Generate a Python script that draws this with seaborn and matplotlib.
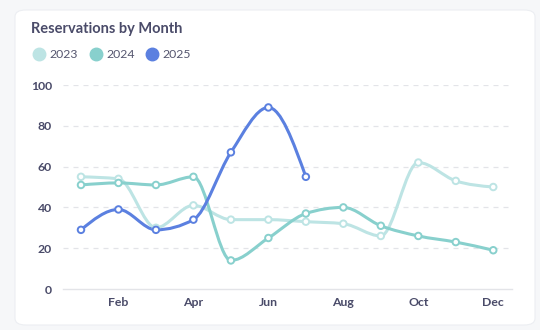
import numpy as np
import pandas as pd
import matplotlib
matplotlib.use("Agg")
import matplotlib.pyplot as plt
import seaborn as sns
from matplotlib.path import Path
from matplotlib.patches import PathPatch, FancyBboxPatch
from matplotlib.lines import Line2D

months = ["Jan", "Feb", "Mar", "Apr", "May", "Jun", "Jul", "Aug", "Sep", "Oct", "Nov", "Dec"]
tick_labels = ["Feb", "Apr", "Jun", "Aug", "Oct", "Dec"]
series_names = ["2023", "2024", "2025"]
values_2023 = [55, 54, 30, 41, 34, 34, 33, 32, 26, 62, 53, 50]
values_2024 = [51, 52, 51, 55, 14, 25, 37, 40, 31, 26, 23, 19]
values_2025 = [29, 39, 29, 34, 67, 89, 55]
y_ticks = [0, 20, 40, 60, 80, 100]

colors = {"2023": "#bde4e4", "2024": "#88d0cd", "2025": "#5b80e0"}
text_color = "#4a4b69"

sns.set_theme(style="white")
plt.rcParams["font.family"] = ["Lato", "DejaVu Sans"]

rows = []
for name, vals in zip(series_names, [values_2023, values_2024, values_2025]):
    for i, v in enumerate(vals):
        rows.append({"month": months[i], "x": i, "value": v, "year": name})
df = pd.DataFrame(rows)

fig = plt.figure(figsize=(5.4, 3.3), dpi=100)
fig.patch.set_facecolor("#f6f7f9")

card = FancyBboxPatch((15 / 540, 5 / 330), 520 / 540, 315 / 330,
                      boxstyle="round,pad=0,rounding_size=0.02",
                      transform=fig.transFigure, facecolor="white",
                      edgecolor="#eceef2", linewidth=0.8, zorder=0)
fig.add_artist(card)

ax = fig.add_axes([63 / 540, (330 - 289) / 330, (512 - 63) / 540, (289 - 85) / 330])
ax.set_facecolor("none")


def monotone_path(xs, ys):
    xs = np.asarray(xs, float)
    ys = np.asarray(ys, float)
    n = len(xs)
    h = np.diff(xs)
    s = np.diff(ys) / h
    t = np.zeros(n)
    for i in range(1, n - 1):
        h0, h1 = h[i - 1], h[i]
        s0, s1 = s[i - 1], s[i]
        p = (s0 * h1 + s1 * h0) / (h0 + h1)
        t[i] = (np.sign(s0) + np.sign(s1)) * min(abs(s0), abs(s1), 0.5 * abs(p))
    t[0] = (3 * s[0] - t[1]) / 2
    t[-1] = (3 * s[-1] - t[-2]) / 2
    verts = [(xs[0], ys[0])]
    codes = [Path.MOVETO]
    for i in range(n - 1):
        dx = h[i] / 3
        verts += [(xs[i] + dx, ys[i] + dx * t[i]),
                  (xs[i + 1] - dx, ys[i + 1] - dx * t[i + 1]),
                  (xs[i + 1], ys[i + 1])]
        codes += [Path.CURVE4] * 3
    return Path(verts, codes)


for name in series_names:
    sub = df[df["year"] == name]
    path = monotone_path(sub["x"], sub["value"])
    ax.add_patch(PathPatch(path, facecolor="none", edgecolor=colors[name],
                           linewidth=2.2, zorder=3, capstyle="round", clip_on=False))

sns.scatterplot(data=df, x="x", y="value", hue="year", palette=colors, ax=ax,
                s=22, facecolor="white", linewidth=1.4, zorder=4, legend=False,
                clip_on=False)
for coll in ax.collections:
    ec = coll.get_facecolors()
    coll.set_edgecolors(ec)
    coll.set_facecolor("white")

ax.set_xlim(-0.48, 11.5)
ax.set_ylim(0, 100)
ax.set_xticks([months.index(m) for m in tick_labels])
ax.set_xticklabels(tick_labels)
ax.set_yticks(y_ticks)
ax.set_xlabel("")
ax.set_ylabel("")
for yv in y_ticks[1:]:
    ax.axhline(yv, color="#e3e4e8", linewidth=0.9, linestyle=(0, (4, 4)), zorder=1)
for sp in ["top", "right", "left"]:
    ax.spines[sp].set_visible(False)
ax.spines["bottom"].set_color("#e3e4e8")
ax.spines["bottom"].set_linewidth(1.0)
ax.tick_params(axis="both", length=0, labelsize=8.8, labelcolor=text_color)
ax.tick_params(axis="x", pad=6)
ax.tick_params(axis="y", pad=8)
for lbl in ax.get_xticklabels() + ax.get_yticklabels():
    lbl.set_fontweight("bold")

fig.text(31 / 540, 1 - 29 / 330, "Reservations by Month", fontsize=10.5,
         fontweight="bold", color=text_color, va="center", ha="left")

legend_x = [39, 96, 152]
for lx, name in zip(legend_x, series_names):
    fig.add_artist(Line2D([lx / 540], [1 - 54 / 330], marker="o", markersize=9,
                          color=colors[name], linestyle="none",
                          transform=fig.transFigure))
    fig.text((lx + 10) / 540, 1 - 54 / 330, name, fontsize=8.8, color="#55566f",
             va="center", ha="left")

fig.savefig("out.png", dpi=100, facecolor=fig.get_facecolor())
